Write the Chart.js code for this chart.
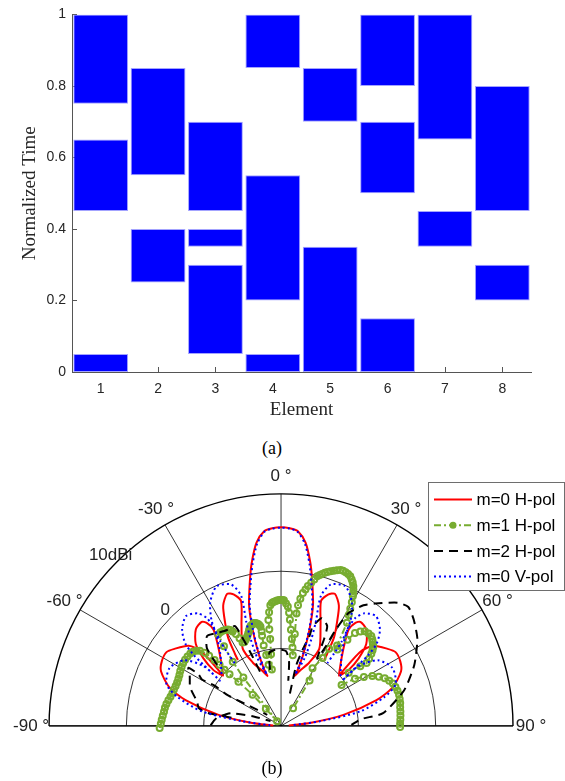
<!DOCTYPE html>
<html>
<head>
<meta charset="utf-8">
<script src="https://cdn.jsdelivr.net/npm/chart.js@4.4.0/dist/chart.umd.min.js"></script>
<style>
  body { margin: 0; background: #fff; }
  #page { position: relative; width: 565px; height: 781px; overflow: hidden; background: #fff; }
  #timing { position: absolute; left: 0; top: 0; }
  #pattern { position: absolute; left: 0; top: 455px; }
  .caption { position: absolute; font: 18px "Liberation Serif", "Times New Roman", serif; color: #000; transform: translate(-50%, -50%); }
</style>
</head>
<body>
<div id="page">
  <canvas id="timing" width="565" height="430"></canvas>
  <div class="caption" style="left:272px; top:448px;">(a)</div>
  <canvas id="pattern" width="565" height="326"></canvas>
  <div class="caption" style="left:272px; top:768px;">(b)</div>
</div>
<script>
// ---- (a) switching times per element ----
const elements = ['1', '2', '3', '4', '5', '6', '7', '8'];
const slotsFirst = [[0.75, 1], [0.55, 0.85], [0.45, 0.7], [0.85, 1], [0.7, 0.85], [0.8, 1], [0.65, 1], [0.45, 0.8]];
const slotsSecond = [[0.45, 0.65], [0.25, 0.4], [0.35, 0.4], [0.2, 0.55], [0, 0.35], [0.5, 0.7], [0.35, 0.45], [0.2, 0.3]];
const slotsThird = [[0, 0.05], null, [0.05, 0.3], [0, 0.05], null, [0, 0.15], null, null];
const timeTicks = [0, 0.2, 0.4, 0.6, 0.8, 1];

// ---- (b) radiation patterns, angle in degrees, gain in dBi ----
const polarAngles = [-90, -60, -30, 0, 30, 60, 90];
const angleLabels = ['-90 °', '-60 °', '-30 °', '0 °', '30 °', '60 °', '90 °'];
const ringGains = [-10, 0, 10];
const ringLabels = ['', '0', '10dBi'];
const GAIN_FLOOR = -20;
const GAIN_TOP = 10;

const redDeg = [-86.4, -83.9, -79.7, -74.7, -70.7, -65.2, -61.2, -56.8, -53.7, -48.6, -46.5, -48.6,
  -49.0, -50.0, -48.5, -45.7, -41.0, -36.9, -35.4, -34.6, -37.4, -41.5, -47.9, null,
  -32.8, -32.2, -30.5, -27.9, -25.3, -21.9, -19.4, -17.5, -21.1, -26.0, -23.7, -18.4,
  -15.1, -16.3, -17.0, -16.2, -14.6, -12.0, -10.0, -7.5, -4.8, -2.5, 0, 2.5, 4.8, 7.5, 10.0, 12.0, 14.6, 16.2, 17.0, 16.3, 15.1,
  18.4, 23.7, 26.0, 21.1, 17.5, 19.4, 21.9, 25.3, 27.9, 30.5, 32.2, 32.8, null,
  47.9, 41.5, 37.4, 34.6, 35.4, 36.9, 41.0, 45.7, 48.5, 50.0, 49.0,
  48.6, 46.5, 48.6, 53.7, 56.8, 61.2, 65.2, 70.7, 74.7, 79.7, 83.9, 86.4];
const redGain = [-19.0, -16.1, -11.7, -7.2, -4.7, -2.9, -2.4, -2.3, -2.9, -4.1, -5.8, -10.0,
  -9.8, -8.6, -6.6, -4.6, -3.2, -2.9, -3.4, -4.6, -6.5, -8.2, -9.9, null,
  -9.7, -8.8, -6.5, -4.5, -2.5, -1.3, -1.7, -2.8, -5.8, -8.7, -10.9, -12.4,
  -13.2, -12.4, -10.1, -6.8, -3.6, -0.6, 1.8, 4.3, 5.7, 6.0, 6.1, 6.0, 5.7, 4.3, 1.8, -0.6, -3.6, -6.8, -10.1, -12.4, -13.2,
  -12.4, -10.9, -8.7, -5.8, -2.8, -1.7, -1.3, -2.5, -4.5, -6.5, -8.8, -9.7, null,
  -9.9, -8.2, -6.5, -4.6, -3.4, -2.9, -3.2, -4.6, -6.6, -8.6, -9.8,
  -10.0, -5.8, -4.1, -2.9, -2.3, -2.4, -2.9, -4.7, -7.2, -11.7, -16.1, -19.0];

const greenDeg = [-91, -89, -87, -85, -83, -81, -79, -77, -75, -73, -71, -69, -67, -65, -63, -61, -59, -57, -55, -53, -51,
  -49.5, -48, -46.8, -45.8, -45.2, -44.8, -44.7, -44.7, -44.5, -43.5, -42, -41, -40,
  -37.5, -36.5, -35.2, -34.1, -32.5, -31, -29.7, -28.5, -27.5, -26.8, -25.8, -25, -24.4, -23.2, -22, -21, -20.2,
  -19.2, -18.3, -17.5, -16.7, -15.9, -15.1, -14.4, -13.7, -13.1, -12.5, -11.9, -11.5, -11.4, -11.7, -12, -11.6, -11.3,
  -9.1, -7.8, -7, -6.8, -6.7, -5.9, -5, -4.2, -3.5, -2.6, -1.8, -0.9, 0, 0.7, 1.3, 2.3, 3.2, 4, 4.7, 5.8, 7, 8.2, 9.3,
  8.4, 7.7, 7.9, 8.5, 9.2, 10, 10.7, 11.7, 12.6, 13.4, 14.2, 14.9, 15.7, 16.5, 17.5, 18.5, 19.5, 20.6, 21.5, 22.5,
  23.5, 24.5, 25.4, 26.2, 27, 27.6, 28.2, 28.6, 29.4, 30.2, 31, 32.2, 34.5, 31.5, 31.1, 28.3, 31.8, 33.9, null,
  36, 37.2, 38.1, 39.6, 41.1, 43, 44.7, 46, 47, 48, 49, 50, 50.9, 52.3, 53.3, 52.6, 51.4,
  55.5, 57, 59, 61, 63, 65, 67, 69, 71, 73, 75, 77, 79, 81, 83, 85, 87, 89, 90.5];
const greenGain = [-4.3, -4.45, -4.55, -4.65, -4.75, -4.8, -4.9, -5.05, -5.2, -5.3, -5.35, -5.4, -5.4, -5.35, -5.25, -5.1, -5.0, -4.9, -4.85, -4.85, -4.9,
  -5.0, -5.25, -5.6, -6.2, -6.9, -7.8, -8.7, -9.6, -10.5, -12.0, -14.5, -17, -19.2,
  -12, -9.5, -7.2, -5.5, -5.4, -5.4, -5.5, -5.6, -5.8, -6.1, -6.6, -7.3, -7.95, -8.0, -7.8, -7.6, -7.4,
  -7.1, -6.8, -6.5, -6.3, -6.2, -6.1, -6.05, -6.1, -6.2, -6.3, -6.5, -6.7, -7.3, -7.9, -9.2, -10.5, -11.8,
  -12.5, -10.5, -8.5, -7.2, -6.0, -5.0, -4.1, -3.8, -3.7, -3.6, -3.5, -3.45, -3.45, -3.45, -3.5, -3.9, -4.3, -5.1, -6.0, -7.3, -8.5, -9.6, -10.6,
  -7.8, -5.1, -4.0, -3.1, -2.3, -1.8, -1.3, -0.8, -0.3, 0.2, 0.45, 0.65, 0.9, 1.1, 1.3, 1.5, 1.7, 1.9, 1.9, 1.85,
  1.75, 1.6, 1.3, 1.0, 0.6, 0.2, -0.3, -0.6, -1.35, -2.2, -3.0, -4.0, -7.2, -8.1, -9.6, -11.4, -13.0, -17.2, null,
  -7.6, -5.8, -4.5, -3.9, -3.5, -3.4, -3.4, -3.6, -3.8, -4.0, -4.2, -4.55, -4.95, -5.6, -6.2, -7.1, -8.8,
  -10.5, -8.6, -7.5, -6.5, -5.8, -5.2, -4.8, -4.5, -4.35, -4.25, -4.2, -4.25, -4.3, -4.4, -4.45, -4.5, -4.55, -4.6, -4.6];

const blackDeg = [-89.5, -85.5, -82.1, -78.5, -75.7, -71, -65, null,
  -80.5, -79.9, -77.6, -73.8, -66.7, -61, -57.5, -57.7, -59.2, -58.4, -59.7, -58.3, -55.5, -50.7, null,
  -46, -43.2, -39, -33.8, -29, -24.4, -23.1, -22, -20.5, null,
  -11, -9, -5, 0, 4, 7, 9, null,
  15.1, 13.9, 15.6, 17.3, 17.4, 20.4, 24.5, 26, 27.9, 29, 29.2, 30.5, 33.9, 37.1, 42.9, 46.5, 51, 57.1, 65.1, 73.6, 82.8, 85.1, 89.2];
const blackGain = [-10.9, -11.3, -11.7, -12.6, -13.3, -16.1, -18.5, null,
  -13.5, -10.4, -9.1, -8.7, -7.2, -6.5, -5.8, -7.4, -8.1, -9.9, -12, -14.4, -16.3, -17.7, null,
  -8.5, -6.0, -4.8, -5.3, -5.6, -5.6, -7.8, -10.2, -13, null,
  -12.5, -10.3, -10.0, -10.0, -10.2, -11.5, -14, null,
  -15.6, -11.8, -9.6, -7.6, -6.3, -4.9, -5.6, -7.3, -10, -8, -5.5, -2.8, -0.9, 0.15, 2.1, 2.7, 2.1, 1.0, -1.0, -3.4, -6.7, -9.6, -10.9];

const blueDeg = [-87, -83, -79.5, -74.2, -69.7, -62.2, -55.4, -51.9, -53.1,
  -51.9, -50.5, -48.9, -45.3, -40.4, -36.1, -34.1, -34.4, -39.7, -49.6, null,
  -36.0, -35.8, -35.2, -33.1, -29.4, -24.4, -19.1, -16.8, -18.2, -19.0, -18.9,
  -15.2, -16.2, -16.8, -16.0, -14.4, -11.8, -9.8, -7.4, -4.8, -2.5, 0, 2.5, 4.8, 7.4, 9.8, 11.8, 14.4, 16.0, 16.8, 16.2, 15.2,
  18.9, 19.0, 18.2, 16.8, 19.1, 24.4, 29.4, 33.1, 35.2, 35.8, 36.0, null,
  49.6, 39.7, 34.4, 34.1, 36.1, 40.4, 45.3, 48.9, 50.5, 51.9, 53.1,
  51.9, 55.4, 62.2, 69.7, 74.2, 79.5, 83, 87];
const blueGain = [-18.6, -14.8, -9.6, -6.1, -4.2, -3.7, -4.8, -7.3, -10.1,
  -8.4, -5.4, -3.6, -2.0, -1.05, -1.7, -2.9, -4.9, -7.7, -9.9, null,
  -9.8, -8.3, -6.3, -3.6, -1.35, 0.15, -0.35, -2.15, -5.6, -8.0, -10.6,
  -13.0, -12.2, -10.0, -6.8, -3.7, -0.8, 1.6, 4.1, 5.6, 5.95, 6.05, 5.95, 5.6, 4.1, 1.6, -0.8, -3.7, -6.8, -10.0, -12.2, -13.0,
  -10.6, -8.0, -5.6, -2.15, -0.35, 0.15, -1.35, -3.6, -6.3, -8.3, -9.8, null,
  -9.9, -7.7, -4.9, -2.9, -1.7, -1.05, -2.0, -3.6, -5.4, -8.4, -10.1,
  -7.3, -4.8, -3.7, -4.2, -6.1, -9.6, -14.8, -18.6];

const SERIF = '"Liberation Serif", "Times New Roman", serif';
const SANS = '"Liberation Sans", Arial, sans-serif';
Chart.defaults.font.family = SANS;

// MATLAB style ticks pointing into the axes
const inwardTicks = {
  id: 'inwardTicks',
  beforeDatasetsDraw(chart) {
    const { ctx, chartArea, scales: { x, y } } = chart;
    ctx.save();
    ctx.strokeStyle = '#555';
    ctx.lineWidth = 1;
    ctx.beginPath();
    elements.forEach((e, i) => {
      const px = Math.round(x.getPixelForValue(i)) + 0.5;
      ctx.moveTo(px, chartArea.bottom);
      ctx.lineTo(px, chartArea.bottom - 5);
    });
    timeTicks.forEach(v => {
      const py = Math.round(y.getPixelForValue(v)) + 0.5;
      ctx.moveTo(chartArea.left, py);
      ctx.lineTo(chartArea.left + 5, py);
    });
    ctx.stroke();
    ctx.restore();
  }
};

new Chart(document.getElementById('timing'), {
  type: 'bar',
  data: {
    labels: elements,
    datasets: [slotsFirst, slotsSecond, slotsThird].map(slots => ({
      data: slots,
      backgroundColor: '#0000ff',
      borderColor: '#a3a3ff',
      borderWidth: 1,
      borderSkipped: false,
      grouped: false,
      barPercentage: 0.955,
      categoryPercentage: 1
    }))
  },
  options: {
    responsive: false,
    animation: false,
    devicePixelRatio: 1,
    layout: { padding: { top: 10, right: 34, left: 0, bottom: 0 } },
    plugins: { legend: { display: false }, tooltip: { enabled: false } },
    scales: {
      x: {
        offset: true,
        grid: { display: false, drawTicks: false },
        border: { color: '#555', width: 1 },
        ticks: { color: '#262626', font: { size: 14 }, padding: 9 },
        title: { display: true, text: 'Element', color: '#262626', font: { family: SERIF, size: 19 }, padding: { top: 0, bottom: 8.6 } },
        afterFit: scale => { scale.height = 58; }
      },
      y: {
        min: 0,
        max: 1,
        grid: { display: false, drawTicks: false },
        border: { color: '#555', width: 1 },
        ticks: { color: '#262626', font: { size: 14 }, padding: 6, callback: v => String(v) },
        afterBuildTicks: scale => { scale.ticks = timeTicks.map(v => ({ value: v })); },
        title: { display: true, text: 'Normalized Time', color: '#262626', font: { family: SERIF, size: 19 }, padding: { top: 19, bottom: 0 } },
        afterFit: scale => { scale.width = 72; }
      }
    }
  },
  plugins: [inwardTicks]
});

// ---- (b) polar pattern on a cartesian scatter ----
const CENTER_X = 281;
const CENTER_Y = 275;
const PX_PER_DB = 7.9;
const PATTERN_W = 565;
const PATTERN_H = 326;

function toPoints(deg, gain) {
  return deg.map((a, i) => {
    const g = gain[i];
    if (a === null || g === null) return { x: NaN, y: NaN };
    const rho = Math.max(g - GAIN_FLOOR, 0);
    const t = a * Math.PI / 180;
    return { x: rho * Math.sin(t), y: rho * Math.cos(t) };
  });
}

const polarGrid = {
  id: 'polarGrid',
  beforeDatasetsDraw(chart) {
    const { ctx, scales: { x, y } } = chart;
    const cx = x.getPixelForValue(0);
    const cy = y.getPixelForValue(0);
    const k = x.getPixelForValue(1) - cx;
    const outer = (GAIN_TOP - GAIN_FLOOR) * k;
    ctx.save();
    ctx.strokeStyle = '#000';
    ringGains.forEach(g => {
      ctx.lineWidth = g === GAIN_TOP ? 1.4 : 0.8;
      ctx.beginPath();
      ctx.arc(cx, cy, (g - GAIN_FLOOR) * k, Math.PI, 2 * Math.PI);
      ctx.stroke();
    });
    ctx.lineWidth = 0.8;
    ctx.beginPath();
    polarAngles.forEach(a => {
      const t = a * Math.PI / 180;
      ctx.moveTo(cx, cy);
      ctx.lineTo(cx + outer * Math.sin(t), cy - outer * Math.cos(t));
    });
    ctx.stroke();
    ctx.lineWidth = 1.2;
    ctx.beginPath();
    ctx.moveTo(cx - outer, cy);
    ctx.lineTo(cx + outer, cy);
    ctx.stroke();

    ctx.fillStyle = '#222';
    ctx.font = '17px ' + SANS;
    ctx.textAlign = 'center';
    ctx.textBaseline = 'middle';
    polarAngles.forEach((a, i) => {
      const t = a * Math.PI / 180;
      const r = outer + 18;
      ctx.fillText(angleLabels[i], cx + r * Math.sin(t), cy - r * Math.cos(t));
    });
    ringGains.forEach((g, i) => {
      if (!ringLabels[i]) return;
      const r = (g - GAIN_FLOOR) * k + 9;
      const t = -45 * Math.PI / 180;
      ctx.fillText(ringLabels[i], cx + r * Math.sin(t), cy - r * Math.cos(t));
    });
    ctx.restore();
  }
};

const patternLegend = {
  id: 'patternLegend',
  afterDraw(chart) {
    const { ctx } = chart;
    const box = { left: 428.5, top: 27.5, right: 564.5, bottom: 135.5 };
    ctx.save();
    ctx.fillStyle = '#fff';
    ctx.fillRect(box.left, box.top, box.right - box.left, box.bottom - box.top);
    ctx.strokeStyle = '#6e6e6e';
    ctx.lineWidth = 1;
    ctx.strokeRect(box.left, box.top, box.right - box.left, box.bottom - box.top);
    const shown = [3, 2, 1, 0];
    shown.forEach((di, row) => {
      const ds = chart.data.datasets[di];
      const yy = box.top + 17 + row * 25.7;
      ctx.strokeStyle = ds.borderColor;
      ctx.lineWidth = ds.borderWidth;
      ctx.setLineDash(ds.borderDash || []);
      ctx.beginPath();
      ctx.moveTo(434, yy);
      ctx.lineTo(472, yy);
      ctx.stroke();
      ctx.setLineDash([]);
      if (ds.pointRadius > 0) {
        ctx.fillStyle = ds.borderColor;
        ctx.beginPath();
        ctx.arc(453, yy, 3.5, 0, 2 * Math.PI);
        ctx.fill();
      }
      ctx.fillStyle = '#000';
      ctx.font = '17px ' + SANS;
      ctx.textAlign = 'left';
      ctx.textBaseline = 'middle';
      ctx.fillText(ds.label, 476.5, yy + 1);
    });
    ctx.restore();
  }
};

new Chart(document.getElementById('pattern'), {
  type: 'scatter',
  data: {
    datasets: [
      { label: 'm=0 V-pol', data: toPoints(blueDeg, blueGain), showLine: true, borderColor: '#0000ff', borderWidth: 2, borderDash: [2, 3], pointRadius: 0, tension: 0.25, order: 1 },
      { label: 'm=2 H-pol', data: toPoints(blackDeg, blackGain), showLine: true, borderColor: '#000000', borderWidth: 2, borderDash: [9, 6], pointRadius: 0, tension: 0.2, order: 2 },
      { label: 'm=1 H-pol', data: toPoints(greenDeg, greenGain), showLine: true, borderColor: '#77ac30', borderWidth: 2, borderDash: [7, 3, 2, 3],
        pointRadius: 3, pointBorderWidth: 2, pointBorderColor: '#77ac30', pointBackgroundColor: 'rgba(0,0,0,0)', order: 3 },
      { label: 'm=0 H-pol', data: toPoints(redDeg, redGain), showLine: true, borderColor: '#ff0000', borderWidth: 2, pointRadius: 0, tension: 0.25, order: 4 }
    ]
  },
  options: {
    responsive: false,
    animation: false,
    devicePixelRatio: 1,
    layout: { padding: 0 },
    plugins: { legend: { display: false }, tooltip: { enabled: false } },
    scales: {
      x: { type: 'linear', display: false, min: -CENTER_X / PX_PER_DB, max: (PATTERN_W - CENTER_X) / PX_PER_DB },
      y: { type: 'linear', display: false, min: -(PATTERN_H - CENTER_Y) / PX_PER_DB, max: CENTER_Y / PX_PER_DB }
    }
  },
  plugins: [polarGrid, patternLegend]
});
</script>
</body>
</html>
